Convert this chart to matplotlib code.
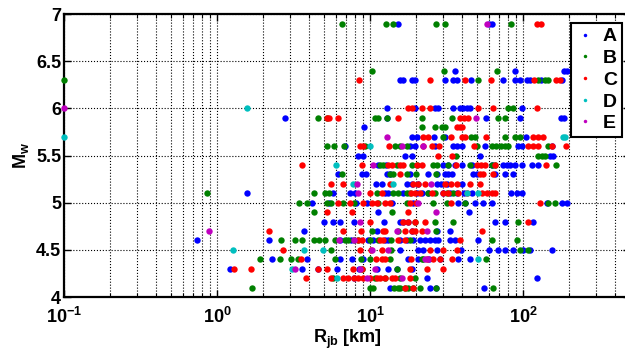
import matplotlib
matplotlib.use('Agg')
import matplotlib.pyplot as plt
from matplotlib.lines import Line2D
from matplotlib.ticker import LogLocator, FixedLocator, NullFormatter

plt.rcParams['font.family'] = ['Liberation Sans', 'DejaVu Sans']
plt.rcParams['font.weight'] = 'bold'
plt.rcParams['mathtext.fontset'] = 'custom'
plt.rcParams['mathtext.rm'] = 'Liberation Sans:bold'
plt.rcParams['mathtext.it'] = 'Liberation Sans:bold'
plt.rcParams['mathtext.bf'] = 'Liberation Sans:bold'
plt.rcParams['mathtext.default'] = 'regular'

# magnitude row -> list of R_jb distances [km]
A_pts = {
    6.9: [15.2, 60, 63],
    6.4: [36, 88, 186, 193],
    6.3: [15.7, 16.5, 18.7, 19.7, 30.9, 35, 37, 45.5, 74, 89, 95, 106, 111, 132, 181],
    6.0: [13, 19.7, 26.6, 28, 35, 38.7, 40.7, 42.9, 45, 98],
    5.9: [2.78, 13, 57, 95.5, 178, 186],
    5.8: [9.1],
    5.7: [18.7, 20.2, 26.3, 30.9, 105],
    5.6: [6.9, 18.3, 19.7, 26.6, 35, 37, 40, 56, 92, 98, 154],
    5.5: [8.4, 9.0, 17, 18.9, 52, 150, 157],
    5.4: [11.2, 12.8, 30.1, 32.5, 35.9, 39.7, 46.2, 62.4, 74, 78, 82, 88.7, 98, 114, 126],
    5.3: [6.2, 8.8, 9.4, 12.9, 13.5, 18.3, 24.1, 27.3, 30.9, 32.5, 34.2, 47.3, 49.8, 65.6, 76.3, 86.5],
    5.2: [11, 11.9, 17.4, 18.7, 20.5, 27.3, 29, 31.7, 39.7],
    5.1: [1.58, 5.7, 7.4, 8.0, 12.5, 13.2, 16.5, 20.2, 22, 24.1, 30.1, 33.3, 36.9, 41.3, 46.2, 84, 91, 98],
    5.0: [4.16, 5.4, 8.1, 9.5, 13.9, 19.2, 37.8, 41.8, 48.6, 55, 62.4, 143, 180, 193],
    4.9: [11.3, 44.6],
    4.8: [5.0, 5.7, 6.4, 7.9, 12.4, 15.7, 16.5, 17.8, 65.6, 76.3, 117],
    4.7: [3.7, 11.1, 18.7, 27.3, 33.3],
    4.6: [0.74, 2.2, 6.4, 7.5, 9.75, 10.5, 12.5, 13.2, 15.7, 17.4, 19.2, 21.2, 22.9, 24.7,
          26.6, 27.9, 33.3, 35.9, 51.1],
    4.5: [15.7, 20.7, 22.1, 27.3, 39.1, 60, 69, 76.3, 86.5, 100, 111, 154],
    4.4: [2.29, 3.85, 6.37, 7.66, 8.95, 17.8, 20.7, 24.3, 28.7, 37.8, 45],
    4.3: [1.22, 3.6, 4.6, 6.06, 8.5, 11.1, 13.2, 14.9, 18.7],
    4.2: [7.9, 23.5, 123],
    4.1: [13.5, 24.7, 27.1, 55.6],
}

B_pts = {
    6.9: [6.6, 12.7, 14.2, 27, 31, 83],
    6.4: [10.3, 30.4, 68],
    6.3: [0.1, 51, 126, 139, 146],
    6.0: [80, 86],
    5.9: [4.6, 5.2, 10.8, 11.3, 12.9, 21.7, 34.5, 69, 76],
    5.8: [21.8, 26.6, 29.4, 31],
    5.7: [30.1, 45.5, 48.6, 76.3, 89, 95.5],
    5.6: [5.2, 5.8, 6.8, 9.3, 14.6, 15.7, 17.5, 49.8, 62.4, 67, 72, 76, 80, 146],
    5.5: [36.5, 126, 133, 140],
    5.4: [11.6, 12.2, 14.9, 18.7, 20.2, 25.9, 27.3, 32.5, 45, 62.4, 65.6, 164],
    5.3: [6.6, 13.5, 14.2, 17.4, 20, 27],
    5.1: [0.86, 4.33, 5.1, 5.4, 11.1, 14.2, 15.2, 17.4, 18.3, 24.1, 26.6, 31.7, 35],
    5.0: [3.45, 3.9, 5.2, 5.6, 6.7, 7.8, 11.2, 17.4, 25.9, 31.7, 41.8, 146, 162],
    4.9: [4.33, 13.9],
    4.8: [19.7, 26.6, 35, 93.2],
    4.7: [10.3, 15.2, 27],
    4.6: [2.6, 3.24, 3.57, 4.33, 4.66, 5.1, 5.9, 6.9, 7.2, 7.8, 8.4, 10, 11.3, 13.7, 18.3, 62.4, 91],
    4.5: [5.56, 13.7, 95.5, 108],
    4.4: [1.91, 2.58, 3.05, 3.37, 5.9, 8.7, 10, 13.5, 21.8, 22.3, 57.5],
    4.3: [8.9, 14.9],
    4.2: [5.7, 10.8, 12.5, 15.7, 19.7],
    4.1: [1.69, 10, 10.4, 14.4, 15.2, 15.7, 16.9, 17.8, 19.2, 21.2, 27, 64],
}

C_pts = {
    6.9: [123, 132],
    6.3: [8.5, 24.7, 42, 61.5, 118, 163, 175],
    6.0: [17.8, 18.7, 22, 24.7, 50.5, 64, 123],
    5.9: [5.2, 5.4, 6.2, 15.3, 38.7, 41, 44],
    5.8: [37, 38.5, 40],
    5.7: [22.3, 24, 33.8, 39.8, 41.7, 57, 117, 126, 135],
    5.6: [8.6, 9.0, 13.3, 22.3, 25.3, 28.2, 47.8, 108, 117, 126, 154, 190],
    5.5: [28, 34.3],
    5.4: [3.6, 8.9, 13.2, 13.9, 15.7, 16.5, 20.2, 21.8, 36.5, 49.8, 53, 56.5, 65.6, 142],
    5.3: [15.7, 52, 55, 63.9],
    5.2: [5.56, 6.69, 13.5, 19.2, 20.7, 22.9, 30.9, 33.7, 36.9, 45, 52.4],
    5.1: [10, 11.9, 18.5, 19.7, 21.2, 25.3, 30.1, 32.5, 37.8, 43, 53.7, 57.9, 62.4, 66],
    5.0: [6.21, 7.4, 9.04, 10.3, 11.1, 12.5, 13.5, 18.3, 20, 34, 129],
    4.9: [5.2, 7.6, 17.8],
    4.8: [10, 16.5, 17.8, 19.7, 22.9, 108],
    4.7: [2.2, 6.7, 8.7, 12.2, 12.5, 16.9, 18.7, 19.7, 21.8, 53.7],
    4.6: [8.4, 8.8, 11.6, 12.2, 15.3, 16.9, 38.7],
    4.5: [2.71, 8.6, 10.2, 11.9, 24.7, 29.9, 36.9],
    4.4: [3.55, 11, 12, 12.5, 18.5, 23.5, 25.9, 28.7, 34.2],
    4.3: [1.3, 1.66, 4.57, 5.24, 7.78, 8.8, 18.3, 23.5, 30.1],
    4.2: [3.8, 5.56, 6.7, 7.2, 7.8, 8.4, 9.0, 10, 11.1, 11.6, 12.5, 13.9, 14.6, 18.3],
    4.1: [17, 19],
}

D_pts = {
    6.0: [1.56],
    5.7: [0.1, 183, 187],
    5.6: [10],
    5.4: [6.0],
    5.2: [7.7, 14.2],
    5.1: [42.9, 50.4],
    4.5: [1.28, 3.7, 4.95],
    4.4: [51],
    4.3: [3.1],
    4.2: [6.06],
}

E_pts = {
    6.9: [58],
    6.0: [0.1],
    5.9: [49],
    5.7: [12.9],
    5.6: [16.3, 22.3],
    5.4: [10.5],
    5.2: [8.2, 25],
    5.1: [8.4],
    5.0: [20.5],
    4.9: [27],
    4.8: [8.6],
    4.7: [0.88, 14.9, 23.5],
    4.6: [6.3, 7.9],
    4.5: [10.3, 13.2],
    4.4: [22.9, 24.1],
    4.3: [3.24, 8.6, 10.8],
    4.2: [9.5, 16.1],
}

labels = ['A', 'B', 'C', 'D', 'E']
groups = [A_pts, B_pts, C_pts, D_pts, E_pts]
colors = ['#0000ff', '#008000', '#ff0000', '#00bfbf', '#bf00bf']


def flatten(pts):
    r, m = [], []
    for mw, rs in pts.items():
        r += rs
        m += [mw] * len(rs)
    return r, m


fig = plt.figure(figsize=(6.25, 3.51), dpi=100)
ax = fig.add_axes([0.1024, 0.1538, 0.9056, 0.806])

for pts, c in zip(groups, colors):
    r, m = flatten(pts)
    ax.plot(r, m, 'o', color=c, markersize=4.6, markeredgewidth=0, clip_on=False, zorder=3)

ax.set_xscale('log')
ax.set_xlim(0.1, 500)
ax.set_ylim(4, 7)
ax.xaxis.set_major_locator(LogLocator(base=10, numticks=10))
ax.xaxis.set_minor_locator(LogLocator(base=10, subs=range(2, 10), numticks=20))
ax.xaxis.set_minor_formatter(NullFormatter())
ax.yaxis.set_major_locator(FixedLocator([4, 4.5, 5, 5.5, 6, 6.5, 7]))
ax.set_yticklabels(['4', '4.5', '5', '5.5', '6', '6.5', '7'])

ax.grid(True, which='major', linestyle=':', color='k', linewidth=0.8)
ax.grid(True, which='minor', axis='x', linestyle=':', color='k', linewidth=0.8)

ax.tick_params(which='both', direction='in', top=True, right=True, labelsize=13)
ax.tick_params(which='major', length=5, width=1)
ax.tick_params(which='minor', length=3, width=0.8)
ax.tick_params(axis='y', pad=2)
ax.tick_params(axis='x', pad=7)
for s in ax.spines.values():
    s.set_linewidth(1.6)

ax.set_xlabel(r'R$_{\mathrm{jb}}$ [km]', fontsize=13, fontweight='bold', labelpad=0.5)
ax.set_ylabel(r'M$_{\mathrm{w}}$', fontsize=13, fontweight='bold', labelpad=4)

handles = [Line2D([], [], ls='none', marker='o', markersize=2.5, markeredgewidth=0, color=c)
           for c in colors]
leg = ax.legend(handles, labels, loc='upper right', bbox_to_anchor=(622 / 625, 1 - 23 / 351),
                bbox_transform=fig.transFigure, fontsize=14, frameon=True, fancybox=False,
                edgecolor='k', framealpha=1, borderpad=0.25, labelspacing=0.21,
                handlelength=0.9, handletextpad=0.5, borderaxespad=0)
leg.get_frame().set_linewidth(1.5)

fig.savefig('out.png', dpi=100)
